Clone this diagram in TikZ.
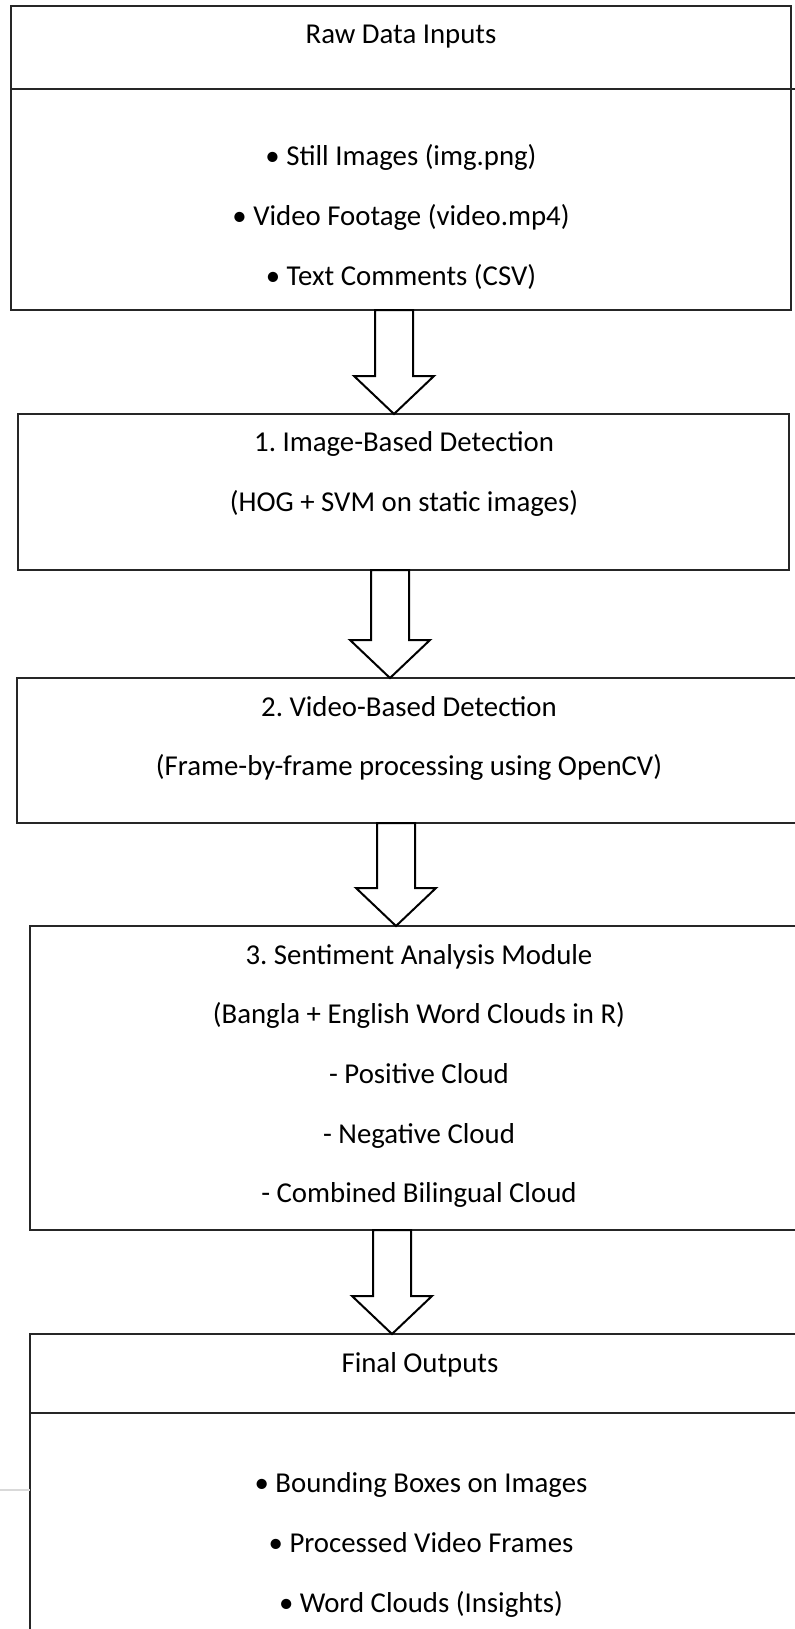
\documentclass[tikz,border=0pt]{standalone}
\usepackage{fontspec}
\setmainfont{Carlito}
\usetikzlibrary{calc,positioning}
\frenchspacing

\tikzset{
  stagebox/.style={draw=black!85, line width=0.9pt, inner sep=0pt, outer sep=0pt},
  boxtext/.style={align=center, font=\fontsize{14.4}{29.8}\selectfont, inner sep=0pt},
  blockarrow/.style={draw=black, line width=1pt, fill=white, line join=miter},
}

% hollow down arrow: centre x, source node, target node
\newcommand{\flowarrow}[3]{%
  \draw[blockarrow] ($(#1,0 |- #2.south)+(-19,0)$) -- ($(#1,0 |- #3.north)+(-19,-38)$)
    -- ($(#1,0 |- #3.north)+(-40,-38)$) -- (#1,0 |- #3.north)
    -- ($(#1,0 |- #3.north)+(40,-38)$) -- ($(#1,0 |- #3.north)+(19,-38)$)
    -- ($(#1,0 |- #2.south)+(19,0)$) -- cycle;
}

\begin{document}
\begin{tikzpicture}[x=0.5pt, y=-0.5pt]
  \clip (0,0) rectangle (795,1629);
  \fill[white] (0,0) rectangle (795,1629);

  % Raw inputs
  \node[stagebox, minimum width=390pt, minimum height=152pt] (raw) at (401,158) {};
  \draw[stagebox] (raw.west |- 0,89) -- (796,89);
  \node[boxtext] (rawtitle) at (401,37) {Raw Data Inputs};
  \node[boxtext] (rawlist) at (401,217) {• Still Images (img.png)\\• Video Footage (video.mp4)\\• Text Comments (CSV)};

  % Stage 1
  \node[stagebox, minimum width=385.5pt, minimum height=78pt] (imgdet) at (403.5,492) {};
  \node[boxtext] (imgtext) at (404,474) {1. Image-Based Detection\\(HOG + SVM on static images)};

  % Stage 2
  \node[stagebox, minimum width=392pt, minimum height=72.5pt] (viddet) at (409,750.5) {};
  \node[boxtext] (vidtext) at (409,738.5) {2. Video-Based Detection\\(Frame-by-frame processing using OpenCV)};

  % Stage 3
  \node[stagebox, minimum width=389pt, minimum height=152pt] (senti) at (419,1078) {};
  \node[boxtext] (sentitext) at (419,1076) {3. Sentiment Analysis Module\\(Bangla + English Word Clouds in R)\\- Positive Cloud\\- Negative Cloud\\- Combined Bilingual Cloud};

  % Outputs
  \node[stagebox, minimum width=390pt, minimum height=183pt] (final) at (420,1517) {};
  \draw[stagebox] (final.west |- 0,1413) -- (final.east |- 0,1413);
  \node[boxtext] (finaltitle) at (420,1365) {Final Outputs};
  \node[boxtext] (finallist) at (421,1545) {• Bounding Boxes on Images\\• Processed Video Frames\\• Word Clouds (Insights)};
  \draw[gray!30, line width=1pt] (0,1490) -- (final.west |- 0,1490);

  % Arrows
  \flowarrow{394}{raw}{imgdet}
  \flowarrow{390}{imgdet}{viddet}
  \flowarrow{396}{viddet}{senti}
  \flowarrow{392}{senti}{final}
\end{tikzpicture}
\end{document}
